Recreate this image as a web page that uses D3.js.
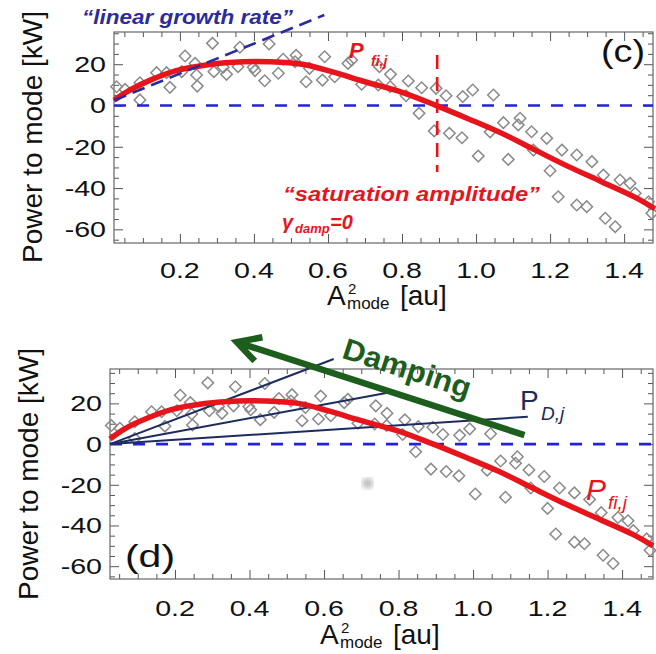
<!DOCTYPE html>
<html><head><meta charset="utf-8">
<script src="https://cdn.jsdelivr.net/npm/d3@7"></script>
<style>body{margin:0;background:#fff}svg{display:block}</style>
</head><body>
<svg id="chart" width="656" height="654"></svg>
<script>
// ---------------- data ----------------
const scatterX = [0.029,0.052,0.092,0.092,0.137,0.164,0.173,0.205,0.214,0.241,0.245,0.247,0.288,0.292,0.317,0.326,0.357,0.362,0.398,0.403,0.429,0.441,0.466,0.479,0.511,0.514,0.541,0.550,0.585,0.591,0.618,0.654,0.664,0.691,0.736,0.739,0.768,0.769,0.811,0.817,0.846,0.853,0.887,0.892,0.919,0.928,0.962,0.964,0.991,1.006,1.038,1.047,1.074,1.087,1.114,1.119,1.150,1.155,1.191,1.200,1.222,1.232,1.272,1.272,1.299,1.313,1.344,1.349,1.376,1.389,1.416,1.430,1.466,1.475];
const scatterY = [9.1,7.8,11.0,2.7,15.9,15.9,8.8,16.4,24.0,20.4,14.8,9.4,30.1,16.4,18.5,15.1,18.8,28.2,18.5,16.9,12.0,29.8,15.6,22.4,21.2,24.3,11.5,18.0,12.3,23.6,13.9,20.4,22.0,10.3,9.9,18.8,9.1,15.1,4.7,11.9,-3.8,8.6,-12.3,8.3,4.7,-13.5,-15.6,4.3,7.5,-24.5,-12.8,5.1,-8.3,-26.1,-9.4,-6.2,-12.7,-21.6,-15.9,-31.6,-44.2,-21.6,-24.0,-48.2,-49.0,-27.2,-33.7,-54.6,-58.7,-36.1,-37.7,-42.5,-46.6,-52.2];

const curveX = [0.022,0.065,0.12,0.19,0.28,0.37,0.44,0.53,0.61,0.70,0.80,0.89,0.98,1.07,1.16,1.25,1.34,1.43,1.483];
const curveY = [2.5,7.5,12.3,16.9,19.9,21.2,21.2,20.0,16.4,11.5,6.4,0.2,-6.5,-13.5,-21.6,-29.6,-37.0,-44.5,-50.0];

const xMajorTicks = [0.2,0.4,0.6,0.8,1.0,1.2,1.4];
const xTickLabels = ["0.2","0.4","0.6","0.8","1.0","1.2","1.4"];
const yMajorTicks = [-60,-40,-20,0,20];
const yTickLabels = ["-60","-40","-20","0","20"];
const xMinorStep = 0.05, yMinorStep = 5;

const growthLineX = [0.022,0.59];
const growthLineY = [2.5,43.8];
const saturationX = 0.895;
const saturationY = [24.5,-32.2];

const dampStartX = 0.0255;
const dampEndX = [0.626,0.785,1.147];
const dampEndY = [41.8,25.7,13.4];
const arrowX = [1.138,0.366];   // tail, tip
const arrowY = [4.4,50.1];
const smudgeX = 0.717, smudgeY = -19.2;

// ---------------- drawing ----------------
const svg = d3.select("#chart");
const defs = svg.append("defs");
defs.append("filter").attr("id","blur").append("feGaussianBlur").attr("stdDeviation",3);

const RED = "#e8141c", BLUE = "#2222dd", NAVY = "#1d2b5e", GROW = "#2b2b9c", GREEN = "#1d5e1d", GRAY = "#8a8a8a";
const FONT = "'Liberation Sans', Arial, Helvetica, sans-serif";

function panel(p) {
  const x = d3.scaleLinear().domain(p.xd).range([p.l, p.r]);
  const y = d3.scaleLinear().domain(p.yd).range([p.b, p.t]);
  const g = svg.append("g");

  const xMinor = d3.range(xMinorStep, p.xd[1], xMinorStep).filter(v => v > p.xd[0] && !xMajorTicks.some(m => Math.abs(m - v) < 1e-6));
  const yMinor = d3.range(-65, p.yd[1], yMinorStep).filter(v => v > p.yd[0] && yMajorTicks.indexOf(v) < 0);

  const axes = [
    [d3.axisBottom, x, `translate(0,${p.b})`],
    [d3.axisTop, x, `translate(0,${p.t})`],
    [d3.axisLeft, y, `translate(${p.l},0)`],
    [d3.axisRight, y, `translate(${p.r},0)`]
  ];
  axes.forEach(([fn, sc, tr]) => {
    const isX = sc === x;
    const maj = g.append("g").attr("transform", tr)
      .call(fn(sc).tickValues(isX ? xMajorTicks : yMajorTicks).tickSizeInner(-9).tickSizeOuter(0).tickFormat(""));
    const min = g.append("g").attr("transform", tr)
      .call(fn(sc).tickValues(isX ? xMinor : yMinor).tickSizeInner(-5).tickSizeOuter(0).tickFormat(""));
    [maj, min].forEach(a => { a.select(".domain").remove(); a.selectAll("line").attr("stroke", "#555").attr("stroke-width", 1); });
  });
  g.append("rect").attr("x", p.l).attr("y", p.t).attr("width", p.r - p.l).attr("height", p.b - p.t)
    .attr("fill", "none").attr("stroke", "#666").attr("stroke-width", 1.2);

  // tick labels
  xMajorTicks.forEach((v, i) => {
    g.append("text").attr("transform", `translate(${x(v)},${p.xlab}) scale(1.3,1)`)
      .attr("text-anchor", "middle").attr("font-family", FONT).attr("font-size", 22).attr("fill", "#111")
      .text(xTickLabels[i]);
  });
  yMajorTicks.forEach((v, i) => {
    g.append("text").attr("transform", `translate(${p.l - 8},${y(v) + 8}) scale(1.3,1)`)
      .attr("text-anchor", "end").attr("font-family", FONT).attr("font-size", 22).attr("fill", "#111")
      .text(yTickLabels[i]);
  });

  // axis titles
  g.append("text").attr("transform", `translate(${p.ytx},${p.yty}) rotate(-90)`)
    .attr("text-anchor", "middle").attr("font-family", FONT).attr("font-size", 28).attr("fill", "#111")
    .text("Power to mode [kW]");
  const xt = g.append("g").attr("font-family", FONT).attr("fill", "#111");
  xt.append("text").attr("x", p.xtx).attr("y", p.xty).attr("font-size", 28).text("A");
  xt.append("text").attr("x", p.xtx + 21).attr("y", p.xty - 11).attr("font-size", 15).text("2");
  xt.append("text").attr("x", p.xtx + 20).attr("y", p.xty + 4).attr("font-size", 17).text("mode");
  xt.append("text").attr("x", p.xtx + 73).attr("y", p.xty).attr("font-size", 28).text("[au]");

  // scatter
  const sym = d3.symbol(d3.symbolSquare, 66);
  g.append("g").selectAll("path").data(scatterX.map((v, i) => [v, scatterY[i]])).join("path")
    .attr("d", sym).attr("transform", d => `translate(${x(d[0])},${y(d[1])}) rotate(45)`)
    .attr("fill", "none").attr("stroke", GRAY).attr("stroke-width", 1.5);

  // zero line
  g.append("line").attr("x1", p.l).attr("x2", p.r).attr("y1", y(0)).attr("y2", y(0))
    .attr("stroke", BLUE).attr("stroke-width", 2.6).attr("stroke-dasharray", "12,11");

  return { g, x, y };
}

const line = (x, y) => d3.line().x(d => x(d[0])).y(d => y(d[1]));
const curvePts = curveX.map((v, i) => [v, curveY[i]]);

// ---------- top panel (c) ----------
{
  const { g, x, y } = panel({ l: 114, r: 653, t: 32, b: 243, xd: [0.022, 1.478], yd: [-66.6, 35.6],
    xlab: 278, ytx: 42, yty: 137, xtx: 327, xty: 305 });
  g.append("path").datum(curvePts).attr("d", line(x, y).curve(d3.curveCatmullRom))
    .attr("fill", "none").attr("stroke", RED).attr("stroke-width", 5.5);
  g.append("path").datum(growthLineX.map((v, i) => [v, growthLineY[i]])).attr("d", line(x, y))
    .attr("fill", "none").attr("stroke", GROW).attr("stroke-width", 2.6).attr("stroke-dasharray", "13,7");
  g.append("line").attr("x1", x(saturationX)).attr("x2", x(saturationX)).attr("y1", y(saturationY[0])).attr("y2", y(saturationY[1]))
    .attr("stroke", RED).attr("stroke-width", 2.6).attr("stroke-dasharray", "14,8");

  g.append("text").attr("x", 82).attr("y", 24).attr("font-family", FONT).attr("font-size", 21)
    .attr("font-weight", "bold").attr("font-style", "italic").attr("fill", GROW)
    .attr("textLength", 211).attr("lengthAdjust", "spacingAndGlyphs").text("\u201Clinear growth rate\u201D");
  const pf = g.append("g").attr("font-family", FONT).attr("font-weight", "bold").attr("font-style", "italic").attr("fill", RED);
  pf.append("text").attr("x", 349).attr("y", 58).attr("font-size", 22).text("P");
  pf.append("text").attr("x", 371).attr("y", 66).attr("font-size", 14).text("fi,j");
  g.append("text").attr("x", 601).attr("y", 62).attr("font-family", FONT).attr("font-size", 32).attr("fill", "#111")
    .attr("textLength", 44).attr("lengthAdjust", "spacingAndGlyphs").text("(c)");
  g.append("text").attr("x", 283).attr("y", 201).attr("font-family", FONT).attr("font-size", 20)
    .attr("font-weight", "bold").attr("font-style", "italic").attr("fill", RED)
    .attr("textLength", 257).attr("lengthAdjust", "spacingAndGlyphs").text("\u201Csaturation amplitude\u201D");
  const gd = g.append("g").attr("font-family", FONT).attr("font-weight", "bold").attr("font-style", "italic").attr("fill", RED);
  gd.append("text").attr("x", 282).attr("y", 229).attr("font-size", 20).text("\u03B3");
  gd.append("text").attr("x", 295).attr("y", 233).attr("font-size", 13).text("damp");
  gd.append("text").attr("x", 330).attr("y", 229).attr("font-size", 20).text("=0");
}

// ---------- bottom panel (d) ----------
{
  const { g, x, y } = panel({ l: 110, r: 653, t: 369, b: 579, xd: [0.0255, 1.483], yd: [-66.3, 36.9],
    xlab: 616, ytx: 38, yty: 474, xtx: 320, xty: 644 });
  dampEndX.forEach((v, i) => {
    g.append("line").attr("x1", x(dampStartX)).attr("y1", y(0)).attr("x2", x(v)).attr("y2", y(dampEndY[i]))
      .attr("stroke", NAVY).attr("stroke-width", 2);
  });
  g.append("path").datum(curvePts.map(d => [Math.max(d[0], dampStartX), d[1]])).attr("d", line(x, y).curve(d3.curveCatmullRom))
    .attr("fill", "none").attr("stroke", RED).attr("stroke-width", 5.5);
  g.append("circle").attr("cx", x(smudgeX)).attr("cy", y(smudgeY)).attr("r", 5).attr("fill", "#aaa").attr("filter", "url(#blur)");

  // arrow
  const tx = x(arrowX[0]), ty = y(arrowY[0]), hx = x(arrowX[1]), hy = y(arrowY[1]);
  const ang = Math.atan2(ty - hy, tx - hx), L = 26, a = 0.5;
  g.append("line").attr("x1", tx).attr("y1", ty).attr("x2", hx + 3 * Math.cos(ang)).attr("y2", hy + 3 * Math.sin(ang))
    .attr("stroke", GREEN).attr("stroke-width", 6.5);
  g.append("path").attr("d", `M${hx + L * Math.cos(ang - a)},${hy + L * Math.sin(ang - a)} L${hx},${hy} L${hx + L * Math.cos(ang + a)},${hy + L * Math.sin(ang + a)}`)
    .attr("fill", "none").attr("stroke", GREEN).attr("stroke-width", 6.5).attr("stroke-linejoin", "miter");
  g.append("text").attr("transform", "translate(404,378) rotate(18)").attr("text-anchor", "middle")
    .attr("font-family", FONT).attr("font-size", 30).attr("font-weight", "bold").attr("fill", GREEN)
    .attr("textLength", 133).attr("lengthAdjust", "spacingAndGlyphs").text("Damping");

  const pd = g.append("g").attr("font-family", FONT).attr("fill", NAVY);
  pd.append("text").attr("x", 520).attr("y", 410).attr("font-size", 28).text("P");
  pd.append("text").attr("x", 541).attr("y", 420).attr("font-size", 19).attr("font-style", "italic").text("D,j");
  const pr = g.append("g").attr("font-family", FONT).attr("font-style", "italic").attr("fill", RED);
  pr.append("text").attr("x", 586).attr("y", 500).attr("font-size", 30).text("P");
  pr.append("text").attr("x", 608).attr("y", 509).attr("font-size", 19).text("fi,j");
  g.append("text").attr("x", 125).attr("y", 567).attr("font-family", FONT).attr("font-size", 32).attr("fill", "#111")
    .attr("textLength", 50).attr("lengthAdjust", "spacingAndGlyphs").text("(d)");
}
</script>
</body></html>
